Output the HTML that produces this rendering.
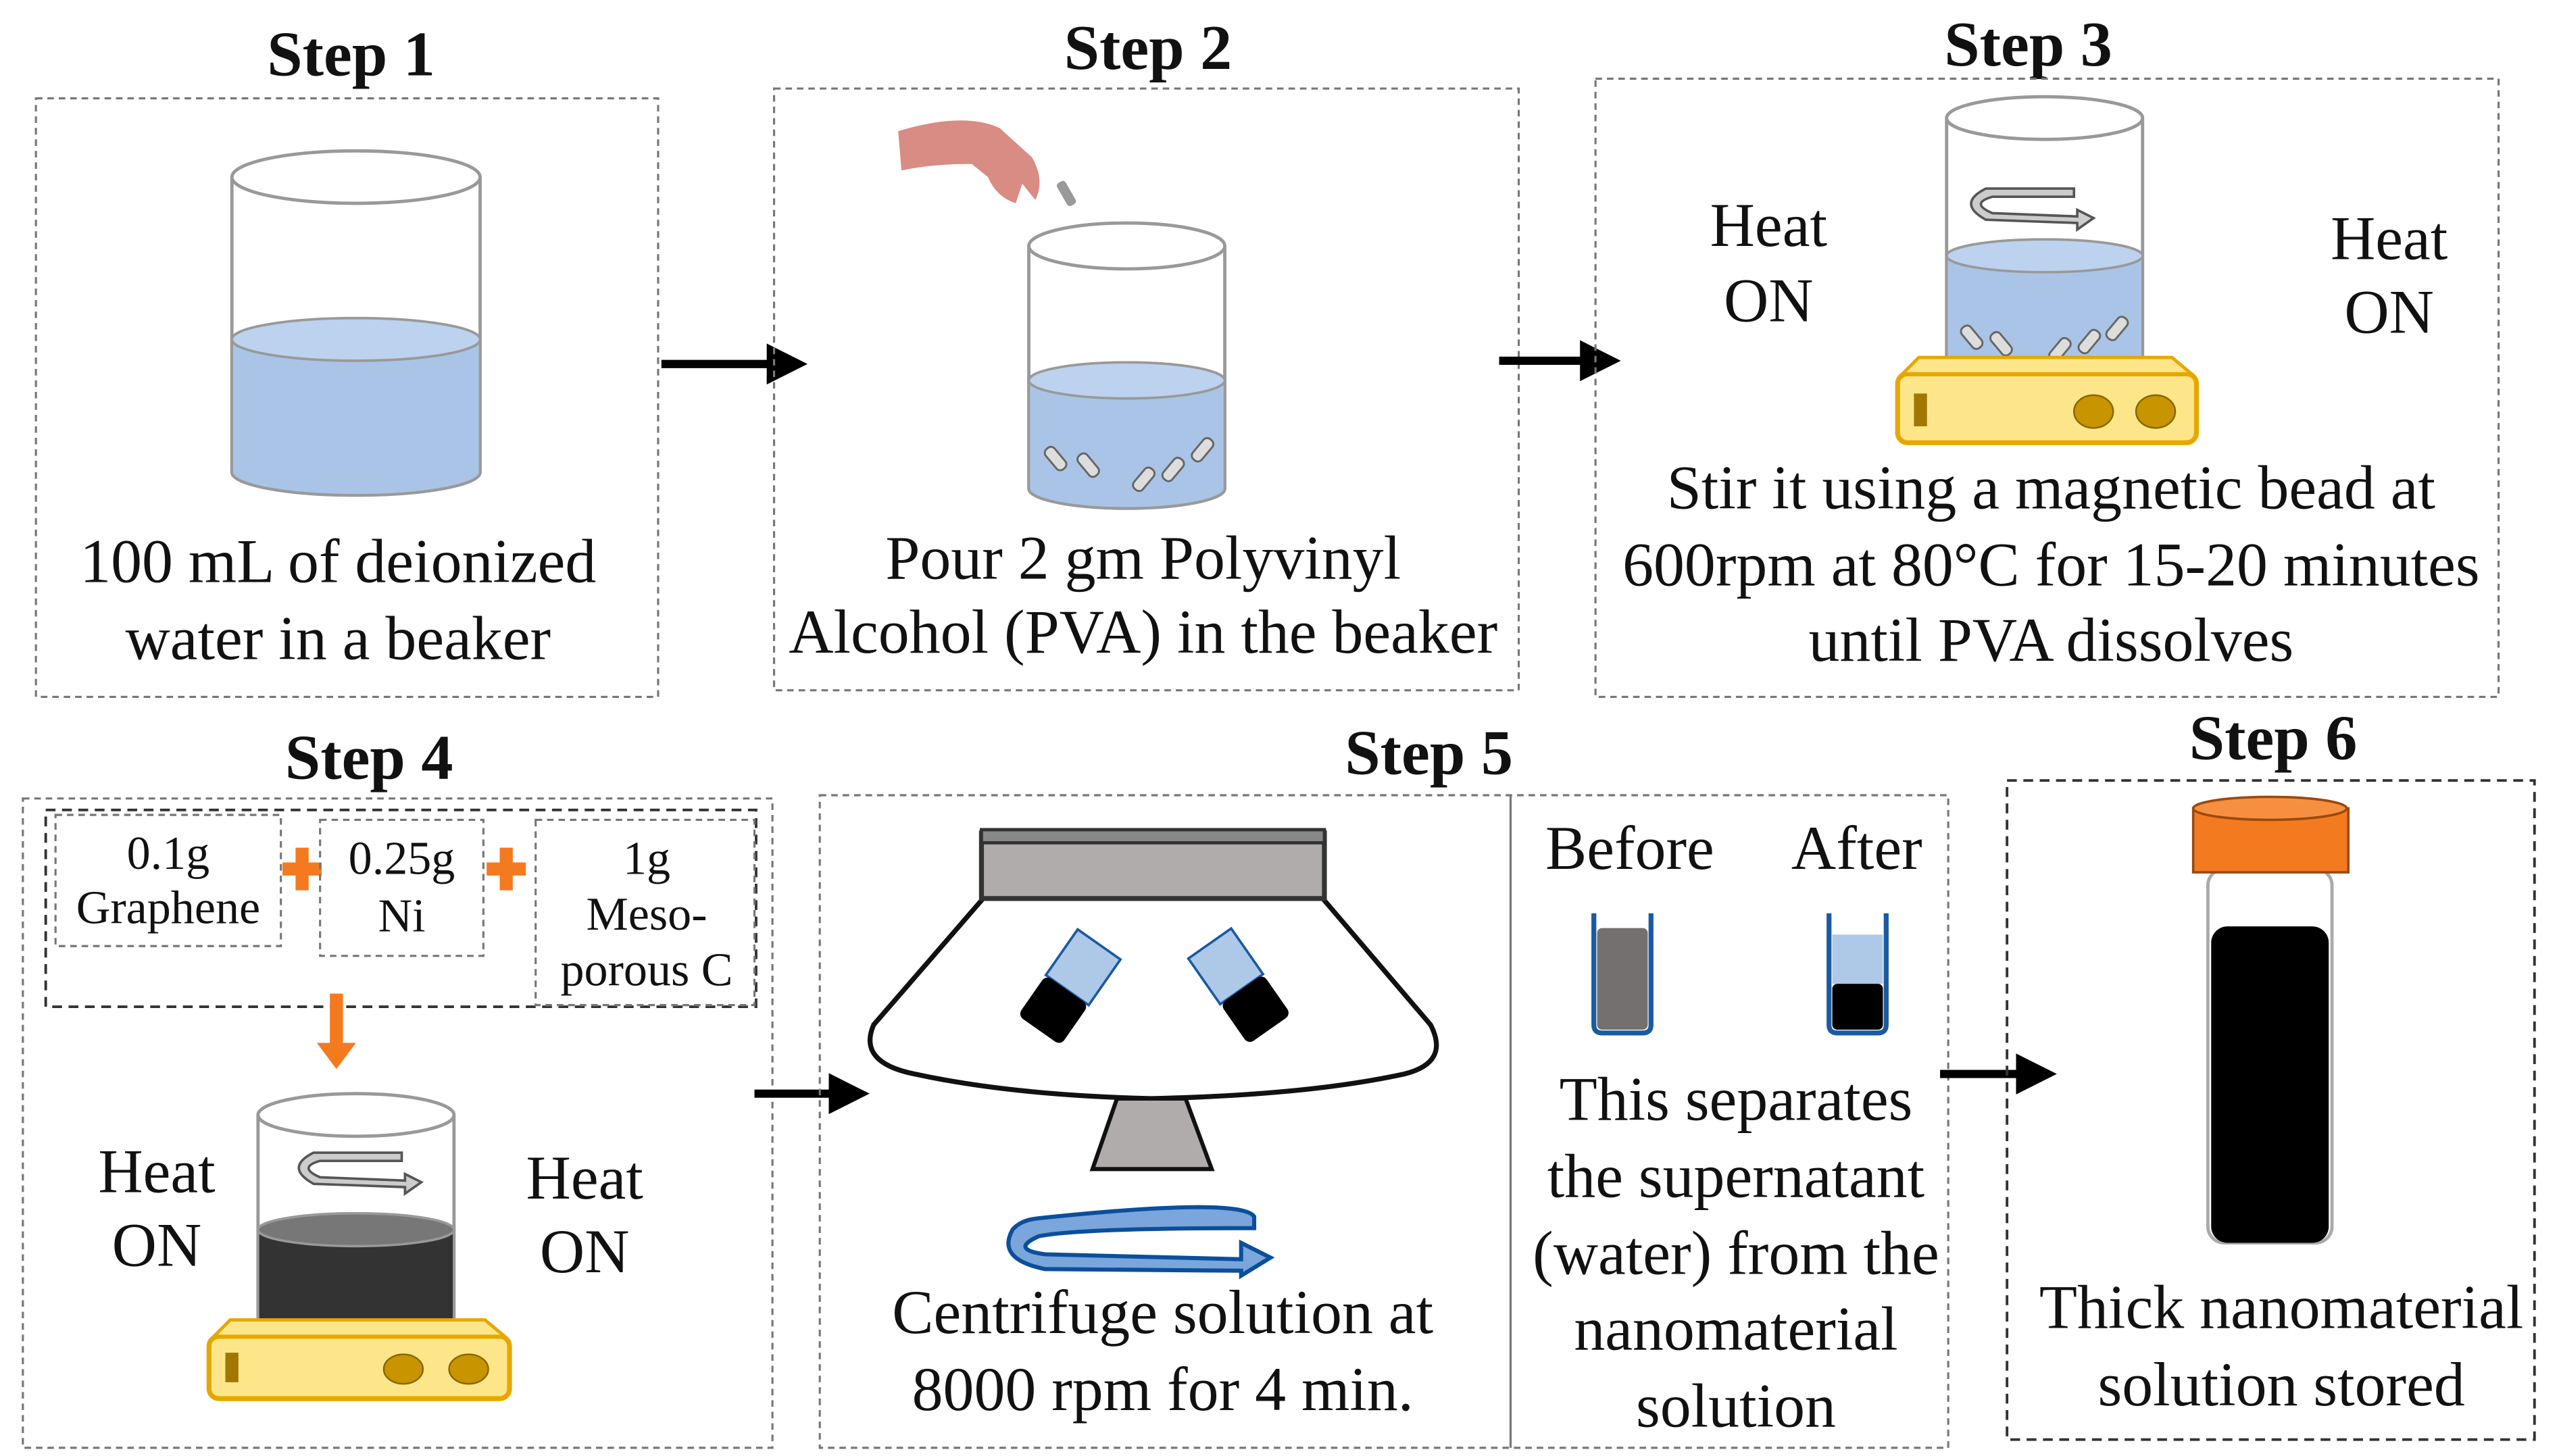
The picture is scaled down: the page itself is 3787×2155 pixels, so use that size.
<!DOCTYPE html>
<html><head><meta charset="utf-8"><style>
html,body{margin:0;padding:0;background:#fff;}
svg{display:block;}
text{font-family:"Liberation Serif",serif;fill:#111;}
.t{font-size:38px;text-anchor:middle;}
.h{font-size:39px;font-weight:bold;text-anchor:middle;}
.s{font-size:29px;text-anchor:middle;}
.box{fill:none;stroke:#777;stroke-width:1.3;stroke-dasharray:4 3;}
.box2{fill:none;stroke:#333;stroke-width:1.6;stroke-dasharray:6 4;}
</style></head><body>
<svg width="3787" height="2155" viewBox="0 0 1567 888" preserveAspectRatio="none" xmlns="http://www.w3.org/2000/svg">
<defs>
<marker id="ah" markerWidth="5" markerHeight="5" refX="2.5" refY="2.5" orient="auto" markerUnits="strokeWidth"><path d="M0,0 L5,2.5 L0,5 z" fill="#000"/></marker>
</defs>

<!-- Step 1 -->
<text class="h" x="215" y="46">Step 1</text>
<rect class="box" x="22" y="60" width="381" height="365"/>
<path d="M142,108 L142,288 A76,14 0 0 0 294,288 L294,108" fill="#fff" stroke="#999" stroke-width="2"/>
<path d="M142,207 L142,288 A76,14 0 0 0 294,288 L294,207 A76,13 0 0 0 142,207z" fill="#a9c4e6" stroke="#999" stroke-width="1.5"/>
<ellipse cx="218" cy="207" rx="76" ry="13" fill="#bcd2ee" stroke="#999" stroke-width="1.5"/>
<ellipse cx="218" cy="108" rx="76" ry="16" fill="#fff" stroke="#999" stroke-width="2"/>
<text class="t" x="207" y="355">100 mL of deionized</text>
<text class="t" x="207" y="402">water in a beaker</text>
<line x1="405" y1="222" x2="482" y2="222" stroke="#000" stroke-width="5" marker-end="url(#ah)"/>

<!-- Step 2 -->
<text class="h" x="703" y="42">Step 2</text>
<rect class="box" x="474" y="54" width="456" height="367"/>
<path d="M550,80 Q590,68 612,78 L632,96 Q640,110 634,122 L626,112 L622,124 Q610,120 605,108 L595,100 Q570,100 552,104z" fill="#d98c84"/>
<rect x="650" y="110" width="6" height="16" rx="2" fill="#999" transform="rotate(-30 653 118)"/>
<path d="M630,150 L630,298 A60,12 0 0 0 750,298 L750,150" fill="#fff" stroke="#999" stroke-width="2"/>
<path d="M630,232 L630,298 A60,12 0 0 0 750,298 L750,232 A60,11 0 0 0 630,232z" fill="#a9c4e6" stroke="#999" stroke-width="1.5"/>
<ellipse cx="690" cy="232" rx="60" ry="11" fill="#bcd2ee" stroke="#999" stroke-width="1.5"/>
<ellipse cx="690" cy="150" rx="60" ry="14" fill="#fff" stroke="#999" stroke-width="2"/>
<g fill="#ddd" stroke="#666" stroke-width="1.2">
<rect x="643" y="272" width="7" height="16" rx="3" transform="rotate(-40 646 280)"/>
<rect x="663" y="276" width="7" height="16" rx="3" transform="rotate(-40 666 284)"/>
<rect x="697" y="284" width="7" height="16" rx="3" transform="rotate(40 700 292)"/>
<rect x="715" y="278" width="7" height="16" rx="3" transform="rotate(40 718 286)"/>
<rect x="733" y="266" width="7" height="16" rx="3" transform="rotate(40 736 274)"/>
</g>
<text class="t" x="700" y="353">Pour 2 gm Polyvinyl</text>
<text class="t" x="700" y="398">Alcohol (PVA) in the beaker</text>
<line x1="918" y1="220" x2="980" y2="220" stroke="#000" stroke-width="5" marker-end="url(#ah)"/>

<!-- Step 3 -->
<text class="h" x="1242" y="40">Step 3</text>
<rect class="box" x="977" y="48" width="553" height="377"/>
<path d="M1192,72 L1192,218 L1312,218 L1312,72" fill="#fff" stroke="#999" stroke-width="2"/>
<path d="M1192,156 L1192,220 L1312,220 L1312,156 A60,10 0 0 0 1192,156z" fill="#a9c4e6" stroke="#999" stroke-width="1.5"/>
<ellipse cx="1252" cy="156" rx="60" ry="10" fill="#bcd2ee" stroke="#999" stroke-width="1.5"/>
<ellipse cx="1252" cy="72" rx="60" ry="13" fill="#fff" stroke="#999" stroke-width="2"/>
<path d="M1270,120 L1220,120 Q1206,124 1220,130 L1272,132 L1272,128 L1282,133 L1272,140 L1272,136 L1216,134 Q1198,124 1216,115 L1270,115z" fill="#ccc" stroke="#555" stroke-width="1.5"/>
<g fill="#ddd" stroke="#666" stroke-width="1.2">
<rect x="1204" y="198" width="7" height="16" rx="3" transform="rotate(-40 1207 206)"/>
<rect x="1222" y="202" width="7" height="16" rx="3" transform="rotate(-40 1225 210)"/>
<rect x="1258" y="205" width="7" height="16" rx="3" transform="rotate(40 1261 213)"/>
<rect x="1276" y="200" width="7" height="16" rx="3" transform="rotate(40 1279 208)"/>
<rect x="1293" y="192" width="7" height="16" rx="3" transform="rotate(40 1296 200)"/>
</g>
<rect x="1162" y="228" width="183" height="42" rx="6" fill="#fde68a" stroke="#e6a800" stroke-width="3"/>
<path d="M1165,228 L1342,228 L1330,218 L1175,218z" fill="#fde68a" stroke="#e6a800" stroke-width="2"/>
<rect x="1172" y="240" width="8" height="20" fill="#a07800"/>
<ellipse cx="1282" cy="251" rx="12" ry="10" fill="#c89400" stroke="#8a6500"/>
<ellipse cx="1320" cy="251" rx="12" ry="10" fill="#c89400" stroke="#8a6500"/>
<text class="t" x="1083" y="150">Heat</text><text class="t" x="1083" y="196">ON</text>
<text class="t" x="1463" y="158">Heat</text><text class="t" x="1463" y="203">ON</text>
<text class="t" x="1256" y="310">Stir it using a magnetic bead at</text>
<text class="t" x="1256" y="357">600rpm at 80°C for 15-20 minutes</text>
<text class="t" x="1256" y="403">until PVA dissolves</text>

<!-- Step 4 -->
<text class="h" x="226" y="475">Step 4</text>
<rect class="box" x="14" y="487" width="459" height="396"/>
<rect class="box2" x="28" y="494" width="435" height="120"/>
<rect class="box" x="34" y="497" width="138" height="80"/>
<text class="s" x="103" y="530">0.1g</text><text class="s" x="103" y="563">Graphene</text>
<path d="M173,526h8v-9h8v9h8v8h-8v9h-8v-9h-8z" fill="#f47a20"/>
<rect class="box" x="196" y="500" width="100" height="83"/>
<text class="s" x="246" y="533">0.25g</text><text class="s" x="246" y="568">Ni</text>
<path d="M298,526h8v-9h8v9h8v8h-8v9h-8v-9h-8z" fill="#f47a20"/>
<rect class="box" x="328" y="500" width="134" height="113"/>
<text class="s" x="396" y="533">1g</text><text class="s" x="396" y="567">Meso-</text><text class="s" x="396" y="601">porous C</text>
<path d="M202,606h8v30h8l-12,16l-12,-16h8z" fill="#f47a20"/>
<path d="M158,680 L158,810 L278,810 L278,680" fill="#fff" stroke="#999" stroke-width="2"/>
<path d="M158,750 L158,812 L278,812 L278,750 A60,10 0 0 0 158,750z" fill="#333" stroke="#999" stroke-width="1.5"/>
<ellipse cx="218" cy="750" rx="60" ry="10" fill="#777" stroke="#999" stroke-width="1.5"/>
<ellipse cx="218" cy="680" rx="60" ry="13" fill="#fff" stroke="#999" stroke-width="2"/>
<path d="M246,708 L196,708 Q182,712 196,718 L248,720 L248,716 L258,721 L248,728 L248,724 L192,722 Q174,712 192,703 L246,703z" fill="#ccc" stroke="#555" stroke-width="1.5"/>
<rect x="128" y="815" width="184" height="38" rx="6" fill="#fde68a" stroke="#e6a800" stroke-width="3"/>
<path d="M131,815 L309,815 L297,805 L141,805z" fill="#fde68a" stroke="#e6a800" stroke-width="2"/>
<rect x="138" y="825" width="8" height="18" fill="#a07800"/>
<ellipse cx="247" cy="835" rx="12" ry="9" fill="#c89400" stroke="#8a6500"/>
<ellipse cx="287" cy="835" rx="12" ry="9" fill="#c89400" stroke="#8a6500"/>
<text class="t" x="96" y="727">Heat</text><text class="t" x="96" y="772">ON</text>
<text class="t" x="358" y="731">Heat</text><text class="t" x="358" y="776">ON</text>
<line x1="462" y1="667" x2="520" y2="667" stroke="#000" stroke-width="5" marker-end="url(#ah)"/>

<!-- Step 5 -->
<text class="h" x="875" y="472">Step 5</text>
<rect class="box" x="502" y="485" width="691" height="398"/>
<line x1="925" y1="485" x2="925" y2="883" stroke="#777" stroke-width="1.3"/>
<path d="M602,548 L535,625 Q525,648 560,655 Q620,668 705,670 Q800,668 860,655 Q888,648 876,625 L810,548z" fill="#fff" stroke="#111" stroke-width="3"/>
<rect x="601" y="508" width="210" height="40" fill="#b0acac" stroke="#333" stroke-width="3"/>
<rect x="601" y="506" width="210" height="8" fill="#888" stroke="#333" stroke-width="2"/>
<path d="M684,670 L726,670 L742,713 L669,713z" fill="#b0acac" stroke="#111" stroke-width="2.5"/>
<g transform="rotate(35 655 600)"><rect x="640" y="570" width="32" height="34" fill="#aec8e8" stroke="#1a5aa0" stroke-width="1.5"/><rect x="640" y="604" width="32" height="30" rx="4" fill="#000"/></g>
<g transform="rotate(-35 758 600)"><rect x="742" y="570" width="32" height="34" fill="#aec8e8" stroke="#1a5aa0" stroke-width="1.5"/><rect x="742" y="604" width="32" height="30" rx="4" fill="#000"/></g>
<path d="M636,743 Q760,730 768,742 L768,749 Q660,749 636,754 Q618,762 640,765 L760,768 L760,758 L778,767 L760,778 L760,775 L640,774 Q610,768 620,750 Q625,744 636,743z" fill="#7aa6dc" stroke="#0b4f9c" stroke-width="2.5"/>
<text class="t" x="712" y="813">Centrifuge solution at</text>
<text class="t" x="712" y="860">8000 rpm for 4 min.</text>
<text class="t" x="998" y="530">Before</text>
<text class="t" x="1137" y="530">After</text>
<path d="M976,557 L976,625 Q976,630 981,630 L1006,630 Q1011,630 1011,625 L1011,557" fill="none" stroke="#1a5aa0" stroke-width="3"/>
<rect x="978" y="566" width="31" height="62" rx="3" fill="#757070"/>
<path d="M1120,557 L1120,625 Q1120,630 1125,630 L1150,630 Q1155,630 1155,625 L1155,557" fill="none" stroke="#1a5aa0" stroke-width="3"/>
<rect x="1122" y="570" width="31" height="30" fill="#aec8e8"/>
<rect x="1122" y="600" width="31" height="28" rx="3" fill="#000"/>
<text class="t" x="1063" y="683">This separates</text>
<text class="t" x="1063" y="730">the supernatant</text>
<text class="t" x="1063" y="777">(water) from the</text>
<text class="t" x="1063" y="823">nanomaterial</text>
<text class="t" x="1063" y="870">solution</text>
<line x1="1188" y1="655" x2="1247" y2="655" stroke="#000" stroke-width="5" marker-end="url(#ah)"/>

<!-- Step 6 -->
<text class="h" x="1392" y="463">Step 6</text>
<rect class="box2" x="1229" y="476" width="323" height="402"/>
<rect x="1352" y="530" width="76" height="228" rx="10" fill="#fff" stroke="#aaa" stroke-width="2"/>
<rect x="1354" y="565" width="72" height="193" rx="10" fill="#000"/>
<rect x="1343" y="493" width="95" height="39" fill="#f47a20" stroke="#9a4a10" stroke-width="1.5"/>
<ellipse cx="1390" cy="493" rx="47" ry="7" fill="#f69040" stroke="#9a4a10" stroke-width="1.5"/>
<text class="t" x="1397" y="810">Thick nanomaterial</text>
<text class="t" x="1397" y="857">solution stored</text>
</svg>
</body></html>
